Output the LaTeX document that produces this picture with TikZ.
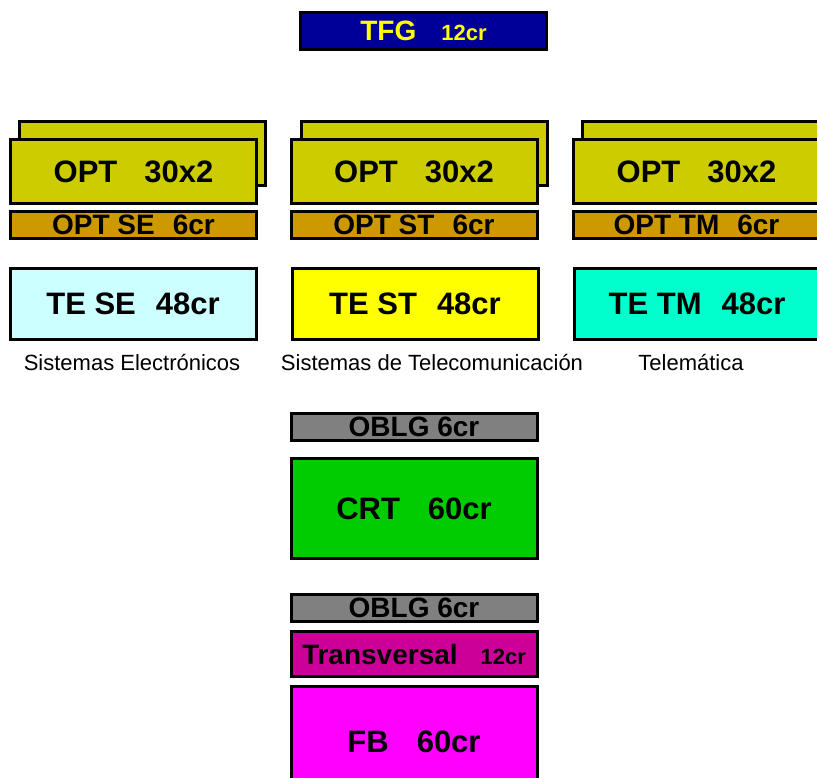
\documentclass[tikz,border=0pt]{standalone}
\usepackage{fontspec}
\setmainfont{Liberation Sans}
\usepackage{xcolor}
\usetikzlibrary{positioning}
\definecolor{tfgBlue}{RGB}{0, 0, 153}
\definecolor{tfgYellow}{RGB}{255, 255, 0}
\definecolor{optOlive}{RGB}{204, 204, 0}
\definecolor{optOchre}{RGB}{204, 153, 0}
\definecolor{teCyan}{RGB}{204, 255, 255}
\definecolor{teYellow}{RGB}{255, 255, 0}
\definecolor{teAqua}{RGB}{0, 255, 204}
\definecolor{oblgGray}{RGB}{128, 128, 128}
\definecolor{crtGreen}{RGB}{0, 204, 0}
\definecolor{trvPurple}{RGB}{204, 0, 153}
\definecolor{fbMagenta}{RGB}{255, 0, 255}
\newcommand{\smallcr}[1]{{\fontsize{22}{22}\selectfont #1}}
\tikzset{
	block/.style={draw=black, line width=3pt, inner sep=0pt, minimum width=246pt,
		font=\bfseries\fontsize{31}{31}\selectfont},
	thinblock/.style={block, minimum height=27pt, font=\bfseries\fontsize{28}{28}\selectfont},
	optblock/.style={block, fill=optOlive, minimum height=64pt},
	teblock/.style={block, minimum height=71pt},
	branch/.style={font=\fontsize{22}{22}\selectfont, anchor=base}
}

\begin{document}
\begin{tikzpicture}[x=1pt, y=-1pt]
	\useasboundingbox (0,0) rectangle (817,778);
	% top: TFG
	\node[block, fill=tfgBlue, text=tfgYellow, minimum height=37pt,
		font=\bfseries\fontsize{28}{28}\selectfont] (tfg) at (423.5,31)
	{TFG\hspace{25pt}\smallcr{12cr}};
	% column 1: SE
	\node[optblock] (optSEback) at (142.5,153.5) {};
	\node[optblock] (optSE) at (133.5,171.5) {OPT\hspace{27pt}30x2};
	\node[thinblock, fill=optOchre] (optSEcr) at (133.5,225) {OPT SE\hspace{18pt}6cr};
	\node[teblock, fill=teCyan] (teSE) at (133,304) {TE SE\hspace{20pt}48cr};
	\node[branch] (nameSE) at (132,370) {Sistemas Electrónicos};
	% column 2: ST
	\node[optblock] (optSTback) at (424,153.5) {};
	\node[optblock] (optST) at (414,171.5) {OPT\hspace{27pt}30x2};
	\node[thinblock, fill=optOchre] (optSTcr) at (414,225) {OPT ST\hspace{18pt}6cr};
	\node[teblock, fill=teYellow] (teST) at (415,304) {TE ST\hspace{20pt}48cr};
	\node[branch] (nameST) at (432,370) {Sistemas de Telecomunicación};
	% column 3: TM
	\node[optblock] (optTMback) at (705.5,153.5) {};
	\node[optblock] (optTM) at (696.5,171.5) {OPT\hspace{27pt}30x2};
	\node[thinblock, fill=optOchre] (optTMcr) at (696.5,225) {OPT TM\hspace{18pt}6cr};
	\node[teblock, fill=teAqua] (teTM) at (697,304) {TE TM\hspace{20pt}48cr};
	\node[branch] (nameTM) at (691,370) {Telemática};
	% common block
	\node[thinblock, fill=oblgGray] (oblgCRT) at (414,427) {OBLG 6cr};
	\node[block, fill=crtGreen, minimum height=100pt] (crt) at (414,508.5) {CRT\hspace{28pt}60cr};
	% basic block
	\node[thinblock, fill=oblgGray] (oblgFB) at (414,608) {OBLG 6cr};
	\node[block, fill=trvPurple, minimum height=45pt, font=\bfseries\fontsize{28}{28}\selectfont]
	(trv) at (414,654) {Transversal\hspace{23pt}\smallcr{12cr}};
	\node[block, fill=fbMagenta, minimum height=111pt] (fb) at (414,742) {FB\hspace{28pt}60cr};
\end{tikzpicture}
\end{document}
